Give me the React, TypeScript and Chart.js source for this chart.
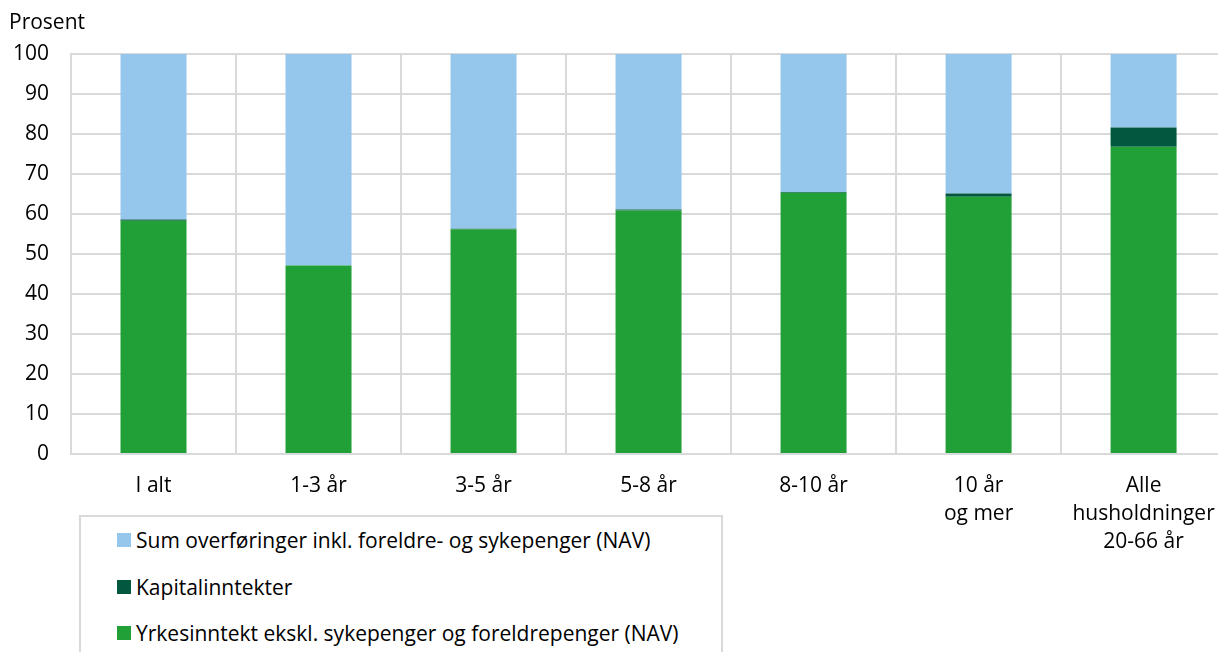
import React, { useEffect, useRef } from "react";
import { Chart, registerables } from "chart.js";

Chart.register(...registerables);

const categories: (string | string[])[] = [
  "I alt",
  "1-3 år",
  "3-5 år",
  "5-8 år",
  "8-10 år",
  ["10 år", "og mer"],
  ["Alle", "husholdninger", "20-66 år"],
];
const yrkesinntekt = [58.3, 47.1, 56.2, 60.9, 65.3, 64.3, 76.8];
const kapital = [0.3, 0.0, 0.1, 0.2, 0.2, 0.8, 4.8];
const overforinger = [41.4, 52.9, 43.7, 38.9, 34.5, 34.9, 18.4];
const yTicks = [0, 10, 20, 30, 40, 50, 60, 70, 80, 90, 100];

const seriesNames = [
  "Sum overføringer inkl. foreldre- og sykepenger (NAV)",
  "Kapitalinntekter",
  "Yrkesinntekt ekskl. sykepenger og foreldrepenger (NAV)",
];
const colors = ["#95c6ec", "#02573f", "#21a038"];

const FONT = "'Open Sans', sans-serif";
const GRID = "#d9d9d9";
const FS = 21;

export default function App() {
  const ref = useRef<HTMLCanvasElement | null>(null);
  useEffect(() => {
    if (!ref.current) return;
    const chart = new Chart(ref.current, {
      type: "bar",
      data: {
        labels: categories,
        datasets: [
          { label: seriesNames[2], data: yrkesinntekt, backgroundColor: colors[2] },
          { label: seriesNames[1], data: kapital, backgroundColor: colors[1] },
          { label: seriesNames[0], data: overforinger, backgroundColor: colors[0] },
        ],
      },
      options: {
        animation: false,
        responsive: false,
        maintainAspectRatio: false,
        layout: { padding: { top: 54, right: 4, left: 0, bottom: 0 } },
        plugins: { legend: { display: false }, tooltip: { enabled: false } },
        datasets: { bar: { categoryPercentage: 1, barPercentage: 0.4 } },
        scales: {
          x: {
            stacked: true,
            grid: { color: GRID, lineWidth: 2, drawTicks: false, offset: true },
            border: { color: GRID, width: 2 },
            ticks: {
              color: "#000",
              font: { family: FONT, size: FS, lineHeight: 1.33 },
              padding: 18,
              maxRotation: 0,
              autoSkip: false,
            },
            afterFit: (s: any) => {
              s.height = 198;
            },
          },
          y: {
            stacked: true,
            min: 0,
            max: 100,
            afterBuildTicks: (s: any) => {
              s.ticks = yTicks.map((v) => ({ value: v }));
            },
            grid: { color: GRID, lineWidth: 2, drawTicks: false },
            border: { color: GRID, width: 2 },
            ticks: {
              color: "#000",
              font: { family: FONT, size: FS },
              padding: 22,
            },
            afterFit: (s: any) => {
              s.width = 71;
            },
          },
        },
      },
    });
    return () => chart.destroy();
  }, []);

  return (
    <div
      style={{
        position: "fixed",
        left: 0,
        top: 0,
        width: 1218,
        height: 652,
        overflow: "hidden",
        background: "#fff",
        fontFamily: FONT,
      }}
    >
      <canvas ref={ref} width={1233} height={652} style={{ position: "absolute", left: 0, top: 0 }} />
      <div style={{ position: "absolute", left: 9, top: 7, fontSize: FS, color: "#000", lineHeight: "28px" }}>
        Prosent
      </div>
      <div
        style={{
          position: "absolute",
          left: 79,
          top: 515,
          width: 640,
          height: 160,
          border: `2px solid ${GRID}`,
          background: "#fff",
        }}
      >
        {seriesNames.map((n, i) => (
          <div
            key={n}
            style={{
              position: "absolute",
              left: 36,
              top: 9 + i * 46.5,
              height: 28,
              display: "flex",
              alignItems: "center",
              fontSize: FS,
              color: "#000",
              whiteSpace: "nowrap",
            }}
          >
            <span style={{ display: "inline-block", width: 14, height: 14, background: colors[i], marginRight: 5 }} />
            {n}
          </div>
        ))}
      </div>
    </div>
  );
}
